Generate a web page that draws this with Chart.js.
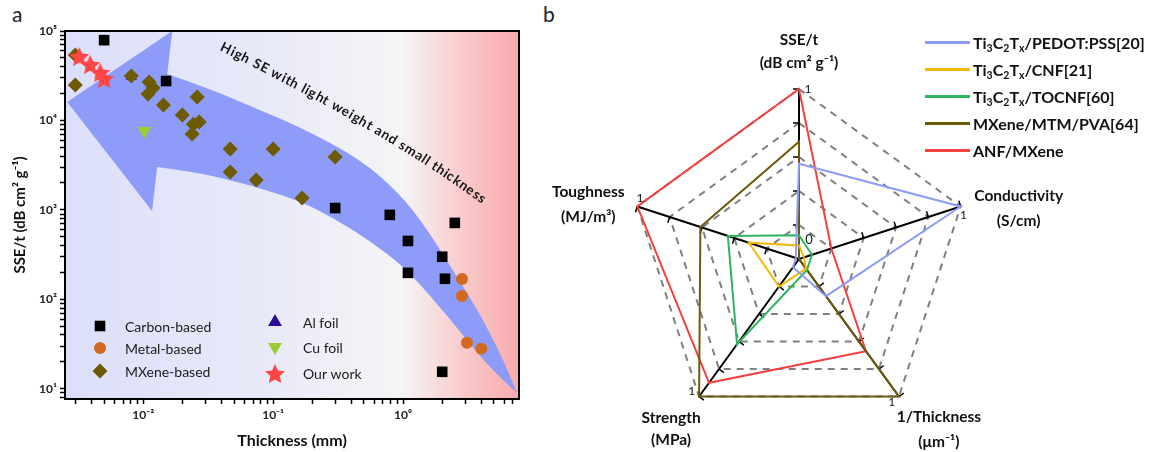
<!DOCTYPE html>
<html lang="en">
<head>
<meta charset="UTF-8">
<title>SSE/t vs thickness and property radar</title>
<script src="https://cdn.jsdelivr.net/npm/chart.js"></script>
<style>
  body { margin: 0; width: 1152px; height: 452px; position: relative; background: #fff; overflow: hidden;
         font-family: Lato, "Open Sans", sans-serif; }
  canvas { position: absolute; top: 0; }
  #scatterChart { left: 0; }
  #radarChart { left: 540px; }
  .panel { position: absolute; top: 1px; font-size: 21px; color: #222; }
  #radarLegend { position: absolute; left: 925px; top: 29px; font-weight: bold; font-size: 16px; color: #111; }
  #radarLegend .row { height: 27px; display: flex; align-items: center; white-space: nowrap; }
  #radarLegend .ln { width: 45px; height: 2.5px; margin-right: 3px; }
  sub { font-size: 10.5px; vertical-align: -3px; line-height: 0; }
</style>
</head>
<body>
<div class="panel" style="left:12px">a</div>
<div class="panel" style="left:543px">b</div>
<canvas id="scatterChart" width="540" height="452"></canvas>
<canvas id="radarChart" width="612" height="452"></canvas>
<div id="radarLegend"></div>

<script>
// ---- panel a : SSE/t vs thickness (log-log) ----
const carbonX = [0.005, 0.015, 0.30, 0.79, 1.09, 1.09, 2.0, 2.1, 2.5, 2.0];
const carbonY = [79000, 27600, 1050, 880, 450, 198, 300, 170, 716, 15.5];
const metalX = [2.84, 2.84, 3.1, 4.0];
const metalY = [169, 109, 32.7, 28];
const mxeneX = [0.0030, 0.0030, 0.0081, 0.0111, 0.0119, 0.0109, 0.0143, 0.020, 0.026,
                0.0243, 0.027, 0.0238, 0.0467, 0.100, 0.0467, 0.074, 0.167, 0.30];
const mxeneY = [54000, 24900, 31400, 26900, 23100, 19800, 14900, 11500, 18300,
                9100, 9600, 7060, 4810, 4810, 2660, 2160, 1360, 3910];
const alX = [0.0081];
const alY = [31000];
const cuX = [0.0102];
const cuY = [7630];
const oursX = [0.00322, 0.00391, 0.00467, 0.0050];
const oursY = [52600, 42800, 34800, 29800];

const xMin = 0.0025, xMax = 7.8, yMin = 7.7, yMax = 100000;
const xMajor = [0.01, 0.1, 1];
const xTickLabels = ['10⁻²', '10⁻¹', '10⁰'];
const yMajor = [10, 100, 1000, 10000, 100000];
const yTickLabels = ['10¹', '10²', '10³', '10⁴', '10⁵'];

// curved arrow band (thickness, SSE/t)
const arrowTip = [0.0026, 16100];
const arrowHeadTop = [0.0167, 100000];
const arrowHeadBottom = [0.0117, 975];
const arrowUpper = [[0.0153, 33100], [0.0328, 22500], [0.0665, 14500], [0.161, 8450], [0.467, 3720],
                    [0.948, 1510], [1.53, 614], [2.51, 193], [4.12, 60.5], [6.10, 19.0], [7.53, 9.0]];
const arrowLower = [[0.0128, 3020], [0.0274, 2590], [0.0665, 1900], [0.161, 1260], [0.300, 793],
                    [0.558, 451], [1.07, 219], [2.30, 60.5], [4.67, 16.7], [7.53, 9.0]];
const arrowText = 'High SE with light weight and small thickness';
const arrowTextPath = [[0.0398, 67900], [0.665, 9140], [4.20, 1293]];

// ---- panel b : radar ----
const radarAxes = ['SSE/t', 'Conductivity', '1/Thickness', 'Strength', 'Toughness'];
const radarUnits = ['(dB cm² g⁻¹)', '(S/cm)', '(μm⁻¹)', '(MPa)', '(MJ/m³)'];
const radarNames = ['Ti<sub>3</sub>C<sub>2</sub>T<sub>x</sub>/PEDOT:PSS[20]',
                    'Ti<sub>3</sub>C<sub>2</sub>T<sub>x</sub>/CNF[21]',
                    'Ti<sub>3</sub>C<sub>2</sub>T<sub>x</sub>/TOCNF[60]',
                    'MXene/MTM/PVA[64]',
                    'ANF/MXene'];
const pedotVals = [0.56, 1, 0.27, 0.06, 0.02];
const cnfVals = [0.08, 0.03, 0.07, 0.2, 0.31];
const tocnfVals = [0.14, 0.08, 0.08, 0.62, 0.44];
const mtmVals = [0.69, 0.0, 1, 1, 0.61];
const anfVals = [1, 0.2, 0.67, 0.9, 1];
const radarColors = ['#8c9cf8', '#f5b800', '#2db55d', '#6b5a0c', '#f54040'];
const radarTicks = [0.2, 0.4, 0.6, 0.8, 1];

const pts = (xs, ys) => xs.map((v, i) => ({ x: v, y: ys[i] }));

function makeStar(size, color) {
  const c = document.createElement('canvas');
  c.width = c.height = size;
  const g = c.getContext('2d');
  const R = size / 2, r = R * 0.45;
  g.beginPath();
  for (let k = 0; k < 10; k++) {
    const rad = k % 2 ? r : R - 0.5;
    const ang = -Math.PI / 2 + k * Math.PI / 5;
    g.lineTo(R + rad * Math.cos(ang), R + 1.5 + rad * Math.sin(ang));
  }
  g.closePath();
  g.fillStyle = color;
  g.fill();
  return c;
}
const starImg = makeStar(22, '#ff4646');

function smoothTo(ctx, p) {
  for (let i = 1; i < p.length - 1; i++) {
    ctx.quadraticCurveTo(p[i][0], p[i][1], (p[i][0] + p[i + 1][0]) / 2, (p[i][1] + p[i + 1][1]) / 2);
  }
  ctx.lineTo(p[p.length - 1][0], p[p.length - 1][1]);
}

const scatterDecor = {
  id: 'scatterDecor',
  beforeDatasetsDraw(chart) {
    const { ctx, chartArea: a, scales: { x, y } } = chart;
    const P = d => [x.getPixelForValue(d[0]), y.getPixelForValue(d[1])];
    ctx.save();
    ctx.beginPath();
    ctx.rect(a.left, a.top, a.width, a.height);
    ctx.clip();
    const g = ctx.createLinearGradient(a.left, 0, a.right, 0);
    g.addColorStop(0, '#dcdffb');
    g.addColorStop(0.45, '#e9eaf8');
    g.addColorStop(0.74, '#f5f5f6');
    g.addColorStop(0.88, '#f9c9ca');
    g.addColorStop(1, '#f8aaad');
    ctx.fillStyle = g;
    ctx.fillRect(a.left, a.top, a.width, a.height);

    // arrow
    const up = arrowUpper.map(P), lo = arrowLower.slice().reverse().map(P);
    const tip = P(arrowTip), ht = P(arrowHeadTop), hb = P(arrowHeadBottom);
    ctx.beginPath();
    ctx.moveTo(tip[0], tip[1]);
    ctx.lineTo(ht[0], ht[1]);
    ctx.lineTo(up[0][0], up[0][1]);
    smoothTo(ctx, up);
    smoothTo(ctx, lo);
    ctx.lineTo(hb[0], hb[1]);
    ctx.closePath();
    ctx.fillStyle = '#8c9cf8';
    ctx.fill();

    // text along the curve
    const [p0, p1, p2] = arrowTextPath.map(P);
    const bz = t => [
      (1 - t) * (1 - t) * p0[0] + 2 * (1 - t) * t * p1[0] + t * t * p2[0],
      (1 - t) * (1 - t) * p0[1] + 2 * (1 - t) * t * p1[1] + t * t * p2[1]];
    const samples = [];
    let len = 0, prev = bz(0);
    for (let i = 0; i <= 400; i++) {
      const q = bz(i / 400);
      len += Math.hypot(q[0] - prev[0], q[1] - prev[1]);
      samples.push({ s: len, q });
      prev = q;
    }
    ctx.font = 'bold 13.5px Lato';
    ctx.fillStyle = '#151515';
    ctx.textAlign = 'center';
    ctx.textBaseline = 'middle';
    const widths = [...arrowText].map(ch => ctx.measureText(ch).width);
    const total = widths.reduce((s, w) => s + w, 0);
    const gap = (len - total) / (arrowText.length - 1);
    let pos = 0;
    [...arrowText].forEach((ch, i) => {
      const mid = pos + widths[i] / 2;
      let k = samples.findIndex(o => o.s >= mid);
      if (k < 1) k = 1;
      const A = samples[k - 1].q, B = samples[Math.min(k + 1, samples.length - 1)].q;
      ctx.save();
      ctx.translate(samples[k].q[0], samples[k].q[1]);
      ctx.rotate(Math.atan2(B[1] - A[1], B[0] - A[0]));
      ctx.fillText(ch, 0, 0);
      ctx.restore();
      pos += widths[i] + gap;
    });
    ctx.restore();
  },
  afterDraw(chart) {
    const { ctx, chartArea: a } = chart;
    ctx.save();
    ctx.strokeStyle = '#000';
    ctx.lineWidth = 2;
    ctx.strokeRect(a.left, a.top, a.width, a.height);

    // legend inside the plot
    const order = ['Carbon-based', 'Metal-based', 'MXene-based', 'Al foil', 'Cu foil', 'Our work'];
    const slots = [[35, 295], [35, 317], [35, 340], [210, 291], [210, 316], [210, 342]];
    ctx.font = '14px Lato';
    ctx.textBaseline = 'middle';
    order.forEach((name, i) => {
      const ds = chart.data.datasets.find(d => d.label === name);
      const mx = a.left + slots[i][0], my = a.top + slots[i][1];
      ctx.fillStyle = ds.pointBackgroundColor || '#000';
      Chart.helpers.drawPoint(ctx, {
        pointStyle: ds.pointStyle, radius: name === 'Al foil' ? 8 : ds.pointRadius,
        rotation: ds.pointRotation || 0, borderWidth: 0
      }, mx, my);
      ctx.fillStyle = '#1a1a1a';
      ctx.textAlign = 'left';
      ctx.fillText(name, mx + (i < 3 ? 25 : 28), my + 1);
    });
    ctx.restore();
  }
};

function logTicks(lo, hi) {
  const t = [];
  for (let e = Math.floor(Math.log10(lo)); e <= Math.ceil(Math.log10(hi)); e++) {
    for (let m = 1; m < 10; m++) {
      const v = m * Math.pow(10, e);
      if (v >= lo * 0.999 && v <= hi * 1.001) t.push({ value: v });
    }
  }
  return t;
}
function majorLabel(v, majors, labels) {
  const i = majors.findIndex(m => Math.abs(v / m - 1) < 1e-6);
  return i < 0 ? '' : labels[i];
}

const axisCommon = {
  type: 'logarithmic',
  grid: { display: true, drawOnChartArea: false, drawTicks: true, tickLength: 5, tickColor: '#000', tickWidth: 1.5 },
  border: { display: true, color: '#000', width: 2 },
};

new Chart(document.getElementById('scatterChart'), {
  type: 'scatter',
  data: {
    datasets: [
      { label: 'Our work', data: pts(oursX, oursY), pointStyle: starImg, pointRadius: 11, pointBackgroundColor: '#ff4646' },
      { label: 'Cu foil', data: pts(cuX, cuY), pointStyle: 'triangle', pointRotation: 180, pointRadius: 8, pointBackgroundColor: '#9acd32' },
      { label: 'MXene-based', data: pts(mxeneX, mxeneY), pointStyle: 'rectRot', pointRadius: 7.5, pointBackgroundColor: '#6e5a00' },
      { label: 'Metal-based', data: pts(metalX, metalY), pointStyle: 'circle', pointRadius: 6, pointBackgroundColor: '#d2691e' },
      { label: 'Carbon-based', data: pts(carbonX, carbonY), pointStyle: 'rect', pointRadius: 7.5, pointBackgroundColor: '#000' },
      { label: 'Al foil', data: pts(alX, alY), pointStyle: 'triangle', pointRadius: 6.5, pointBackgroundColor: '#2d0a9c' },
    ].map(d => Object.assign(d, { pointBorderWidth: 0, pointBorderColor: 'rgba(0,0,0,0)' }))
  },
  options: {
    responsive: false, animation: false, devicePixelRatio: 1,
    layout: { padding: { top: 31, right: 21, left: 0, bottom: 0 } },
    plugins: { legend: { display: false }, tooltip: { enabled: false } },
    scales: {
      x: Object.assign({}, axisCommon, {
        min: xMin, max: xMax,
        afterFit: s => { s.height = 53; },
        afterBuildTicks: s => { s.ticks = logTicks(xMin, xMax); },
        ticks: { autoSkip: false, maxRotation: 0, padding: 4, color: '#222',
                 font: { family: 'Lato', weight: 'bold', size: 12 },
                 callback: v => majorLabel(v, xMajor, xTickLabels) },
        title: { display: true, text: 'Thickness (mm)', color: '#111', padding: { bottom: 2 },
                 font: { family: 'Lato', weight: 'bold', size: 16 } }
      }),
      y: Object.assign({}, axisCommon, {
        min: yMin, max: yMax,
        afterFit: s => { s.width = 65; },
        afterBuildTicks: s => { s.ticks = logTicks(yMin, yMax); },
        ticks: { autoSkip: false, padding: 3, color: '#222',
                 font: { family: 'Lato', weight: 'bold', size: 12 },
                 callback: v => majorLabel(v, yMajor, yTickLabels) },
        title: { display: true, text: 'SSE/t (dB cm² g⁻¹)', color: '#111', padding: { top: 11 },
                 font: { family: 'Lato', weight: 'bold', size: 15 } }
      })
    }
  },
  plugins: [scatterDecor]
});

// ---- radar ----
const labelOffsets = [[0, -49, -26], [58, -10, 15], [40, 20, 45], [-28, 21, 43], [-49, -14, 11]];

const radarDecor = {
  id: 'radarDecor',
  beforeDatasetsDraw(chart) {
    const r = chart.scales.r, ctx = chart.ctx;
    ctx.save();
    ctx.strokeStyle = '#000';
    ctx.lineWidth = 1.5;
    radarAxes.forEach((_, i) => {
      const a = r.getIndexAngle(i) - Math.PI / 2;
      const nx = Math.sin(a), ny = -Math.cos(a);
      radarTicks.forEach(v => {
        const p = r.getPointPositionForValue(i, v);
        ctx.beginPath();
        ctx.moveTo(p.x, p.y);
        ctx.lineTo(p.x + nx * 6, p.y + ny * 6);
        ctx.stroke();
      });
    });
    ctx.restore();
  },
  afterDraw(chart) {
    const r = chart.scales.r, ctx = chart.ctx;
    ctx.save();
    ctx.fillStyle = '#111';
    ctx.textAlign = 'center';
    ctx.textBaseline = 'middle';
    ctx.font = '12px Lato';
    radarAxes.forEach((_, i) => {
      const a = r.getIndexAngle(i) - Math.PI / 2;
      const nx = Math.sin(a), ny = -Math.cos(a);
      const e = r.getPointPositionForValue(i, 1);
      ctx.fillText('1', e.x - nx * 9, e.y - ny * 9);
    });
    ctx.font = '13px Lato';
    ctx.fillText('0', r.xCenter + 10, r.yCenter - 19);
    ctx.font = 'bold 15.5px Lato';
    radarAxes.forEach((name, i) => {
      const e = r.getPointPositionForValue(i, 1);
      const [dx, dy1, dy2] = labelOffsets[i];
      ctx.fillText(name, e.x + dx, e.y + dy1);
      ctx.fillText(radarUnits[i], e.x + dx, e.y + dy2);
    });
    ctx.restore();
  }
};

const radarValues = [pedotVals, cnfVals, tocnfVals, mtmVals, anfVals];

new Chart(document.getElementById('radarChart'), {
  type: 'radar',
  data: {
    labels: radarAxes,
    datasets: radarNames.map((n, i) => ({
      label: n, data: radarValues[i], borderColor: radarColors[i], borderWidth: 2,
      pointRadius: 0, fill: false, backgroundColor: 'rgba(0,0,0,0)'
    }))
  },
  options: {
    responsive: false, animation: false, devicePixelRatio: 1,
    layout: { padding: { left: 89, top: 89, right: 183, bottom: 23 } },
    plugins: { legend: { display: false }, tooltip: { enabled: false } },
    elements: { line: { tension: 0 } },
    scales: {
      r: {
        min: 0, max: 1, beginAtZero: true,
        ticks: { display: false, stepSize: 0.2 },
        pointLabels: { display: false },
        grid: { color: '#808080', lineWidth: 2, borderDash: [7, 6] },
        border: { dash: [7, 6] },
        angleLines: { color: '#000', lineWidth: 2 }
      }
    }
  },
  plugins: [radarDecor]
});

const legendBox = document.getElementById('radarLegend');
radarNames.forEach((n, i) => {
  const row = document.createElement('div');
  row.className = 'row';
  row.innerHTML = '<span class="ln" style="background:' + radarColors[i] + '"></span><span>' + n + '</span>';
  legendBox.appendChild(row);
});
</script>
</body>
</html>
